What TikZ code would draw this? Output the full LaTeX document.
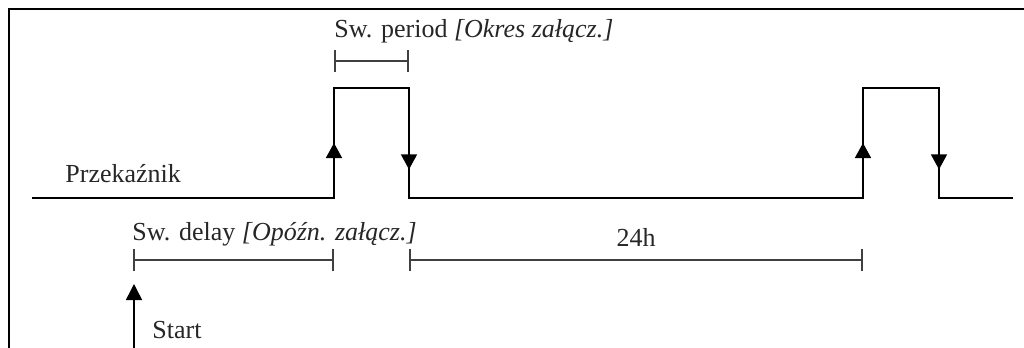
\documentclass[tikz,border=0pt]{standalone}
\usepackage{fontspec}
\setmainfont{Liberation Serif}
\usetikzlibrary{arrows.meta,decorations.markings}

\def\lo{198}  % relay released
\def\hi{88}   % relay energised
\def\flabel#1{\fontsize{13}{15}\selectfont #1}

\begin{document}
\begin{tikzpicture}[x=0.5pt,y=-0.5pt,
    txt/.style={anchor=base west,inner sep=0pt,text=black!85},
    signal/.style={line width=0.75pt},
    span/.style={line width=0.6pt,draw=black!75,
      {Bar[width=11pt,line width=1.2pt]}-{Bar[width=11pt,line width=1.2pt]}},
    tipat/.style={postaction={decorate},decoration={markings,
      mark=at position #1 with {\arrow{Triangle[width=8pt,length=7.5pt]}}}}
    ]
    \useasboundingbox (0,0) rectangle (1024,348);

    % frame
    \draw[line width=1.4pt] (1024,9) -| (9,348);

    % relay output
    \coordinate (s0) at (32,\lo);
    \coordinate (r1) at (334,\lo);  \coordinate (r1h) at (334,\hi);
    \coordinate (f1) at (409,\lo);  \coordinate (f1h) at (409,\hi);
    \coordinate (r2) at (863,\lo);  \coordinate (r2h) at (863,\hi);
    \coordinate (f2) at (939,\lo);  \coordinate (f2h) at (939,\hi);
    \coordinate (s1) at (1013,\lo);
    \draw[signal] (s0) -- (r1) -- (r1h) -- (f1h) -- (f1) -- (r2)
      -- (r2h) -- (f2h) -- (f2) -- (s1);
    \foreach \a/\b in {r1/r1h,r2/r2h} {
      \path[signal,tipat=0.5] (\a) -- (\b);
    }
    \foreach \a/\b in {f1h/f1,f2h/f2} {
      \path[signal,tipat=0.74] (\a) -- (\b);
    }
    \node[txt] (relay) at (65,182) {\flabel{Przekaźnik}};

    % switch period
    \node[txt] (period) at (334,37)
      {\flabel{Sw. period \textit{[Okres załącz.]}}};
    \coordinate (p0) at (334,61);
    \coordinate (p1) at (409,61);
    \draw[span] (p0) -- (p1);

    % switch delay and 24h cycle
    \node[txt] (delay) at (132,240)
      {\flabel{Sw. delay \textit{[Opóźn. załącz.]}}};
    \coordinate (d0) at (133,260);
    \coordinate (d1) at (334,260);
    \draw[span] (d0) -- (d1);
    \coordinate (c0) at (409,260);
    \coordinate (c1) at (863,260);
    \draw[span] (c0) -- (c1) node[midway,above=3pt,text=black!85] (day) {\flabel{24h}};

    % start
    \coordinate (go) at (134,348);
    \coordinate (gotip) at (134,284);
    \draw[signal,-{Triangle[width=8pt,length=8pt]}] (go) -- (gotip);
    \node[txt] (start) at (152,338) {\flabel{Start}};
\end{tikzpicture}
\end{document}
